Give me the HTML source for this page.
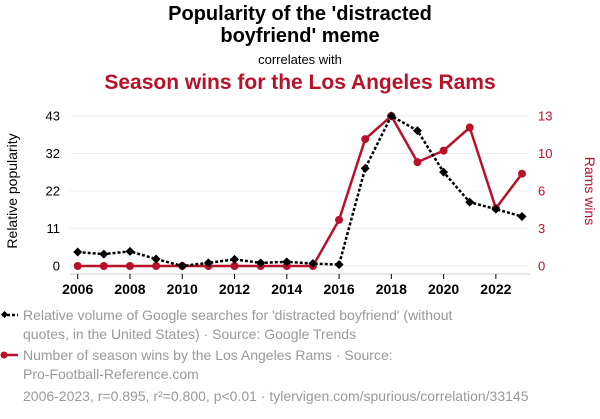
<!DOCTYPE html>
<html><head><meta charset="utf-8"><style>
body{margin:0;width:600px;height:414px;background:#fff;font-family:"Liberation Sans",sans-serif;overflow:hidden}
</style></head><body>
<svg id="chart" width="600" height="414" xmlns="http://www.w3.org/2000/svg" font-family="Liberation Sans, sans-serif">
<text x="300" y="20" text-anchor="middle" font-size="20" font-weight="bold" fill="#000">Popularity of the 'distracted</text>
<text x="300" y="42" text-anchor="middle" font-size="20" font-weight="bold" fill="#000">boyfriend' meme</text>
<text x="300" y="64" text-anchor="middle" font-size="13" fill="#000">correlates with</text>
<text x="300" y="89" text-anchor="middle" font-size="21" font-weight="bold" fill="#b8112a">Season wins for the Los Angeles Rams</text>
<g id="grid"></g><g id="axes"></g><g id="series"></g>
<text transform="translate(17,191) rotate(-90)" text-anchor="middle" font-size="14" fill="#000">Relative popularity</text>
<text transform="translate(585,191) rotate(90)" text-anchor="middle" font-size="14" fill="#b8112a">Rams wins</text>
<g>
<line x1="2" y1="315" x2="18" y2="315" stroke="#000" stroke-width="2.5" stroke-dasharray="3,2"/>
<rect x="2" y="312" width="5" height="5" transform="rotate(45 4.5 314.5)" fill="#000"/>
<text x="23" y="320" font-size="14" fill="#999">Relative volume of Google searches for 'distracted boyfriend' (without</text>
<text x="23" y="339" font-size="14" fill="#999">quotes, in the United States) · Source: Google Trends</text></g>
<g>
<line x1="2" y1="355" x2="18" y2="355" stroke="#b8112a" stroke-width="2.5"/>
<circle cx="4" cy="355" r="3.5" fill="#b8112a"/>
<text x="23" y="360" font-size="14" fill="#999">Number of season wins by the Los Angeles Rams · Source:</text>
<text x="23" y="379" font-size="14" fill="#999">Pro-Football-Reference.com</text></g>
<text x="23" y="401" font-size="14" fill="#999">2006-2023, r=0.895, r²=0.800, p&lt;0.01 · tylervigen.com/spurious/correlation/33145</text>
</svg>
<script>
const years=[2006,2007,2008,2009,2010,2011,2012,2013,2014,2015,2016,2017,2018,2019,2020,2021,2022,2023];
const searches=[4.0,3.4,4.2,2.0,0,0.9,1.9,0.9,1.2,0.7,0.4,28,43,38.8,26.9,18.3,16.3,14.2];
const wins=[0,0,0,0,0,0,0,0,0,0,4,11,13,9,10,12,5,8];
const leftTicks=[0,11,22,32,43];
const rightTicks=[0,3,6,10,13];
const xTicks=[2006,2008,2010,2012,2014,2016,2018,2020,2022];
const NS="http://www.w3.org/2000/svg";
const x=v=>77.7+(v-2006)*(522-77.7)/17;
const yL=v=>266-v/43*150;
const yR=v=>266-v/13*150;
function mk(t,a,p){const e=document.createElementNS(NS,t);for(const k in a)e.setAttribute(k,a[k]);document.getElementById(p).appendChild(e);return e;}
leftTicks.forEach((t,i)=>{const yy=266-i*37.5;
const g=mk('line',{x1:70,x2:528,y1:yy,y2:yy,stroke:'#eee','stroke-width':1},'grid');


const l=mk('text',{x:60,y:yy+4.5,'text-anchor':'end','font-size':13,fill:'#000'},'axes');l.textContent=t;

});
rightTicks.forEach((t,i)=>{const yy=266-i*37.5;
const l=mk('text',{x:538,y:yy+4.5,'font-size':13,fill:'#b8112a'},'axes');l.textContent=t;

});
const ax=mk('line',{x1:70,x2:530,y1:274,y2:274,stroke:'#ccc','stroke-width':1},'axes');


xTicks.forEach(t=>{mk('line',{x1:x(t),x2:x(t),y1:274,y2:279,stroke:'#000'},'axes');
const l=mk('text',{x:x(t),y:294,'text-anchor':'middle','font-size':14,'font-weight':'bold',fill:'#000'},'axes');l.textContent=t;

});
const rl=mk('polyline',{points:years.map((y,i)=>x(y)+','+yR(wins[i])).join(' '),fill:'none',stroke:'#b8112a','stroke-width':2.5},'series');


years.forEach((y,i)=>{const c=mk('circle',{cx:x(y),cy:yR(wins[i]),r:4,fill:'#b8112a'},'series');

});
const bl=mk('polyline',{points:years.map((y,i)=>x(y)+','+yL(searches[i])).join(' '),fill:'none',stroke:'#000','stroke-width':2.5,'stroke-dasharray':'3,2'},'series');


years.forEach((y,i)=>{const cx=x(y),cy=yL(searches[i]);
const p=mk('polygon',{points:`${cx},${cy-4.5} ${cx+4.5},${cy} ${cx},${cy+4.5} ${cx-4.5},${cy}`,fill:'#000'},'series');

});
</script>
</body></html>
